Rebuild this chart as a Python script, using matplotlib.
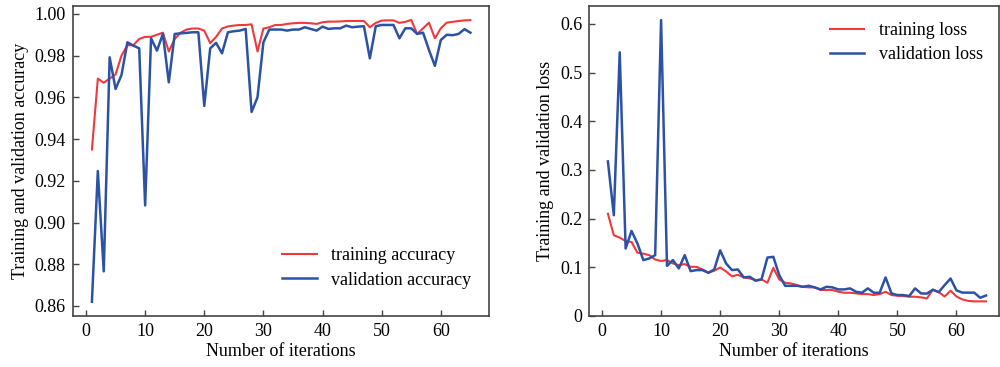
import matplotlib
matplotlib.use("Agg")
import matplotlib.pyplot as plt
import numpy as np

# Curvas (iteraciones 1..65)
iterations = np.arange(1, 66)

train_acc = [
    0.935, 0.969, 0.967, 0.969, 0.971, 0.980, 0.985, 0.985, 0.988, 0.989,
    0.989, 0.990, 0.991, 0.982, 0.988, 0.991, 0.9925, 0.993, 0.993, 0.992,
    0.986, 0.989, 0.993, 0.994, 0.9944, 0.9947, 0.9947, 0.995, 0.982, 0.993,
    0.9936, 0.9947, 0.9947, 0.9952, 0.9955, 0.9957, 0.9957, 0.9955, 0.9952, 0.996,
    0.9963, 0.9963, 0.9964, 0.9966, 0.9966, 0.9966, 0.9966, 0.9936, 0.9957, 0.9968,
    0.9969, 0.9969, 0.9957, 0.9962, 0.9971, 0.9904, 0.9931, 0.9958, 0.9883, 0.9931,
    0.9958, 0.9962, 0.9966, 0.9969, 0.997,
]
val_acc = [
    0.862, 0.9247, 0.8766, 0.9792, 0.964, 0.9707, 0.9864, 0.9848, 0.9835, 0.9082,
    0.9883, 0.9824, 0.9904, 0.9672, 0.9904, 0.9907, 0.9909, 0.9912, 0.9912, 0.9559,
    0.9835, 0.9861, 0.9811, 0.9912, 0.9917, 0.992, 0.9928, 0.953, 0.960, 0.9864,
    0.9925, 0.9925, 0.9925, 0.992, 0.9925, 0.9925, 0.9936, 0.9928, 0.992, 0.9939,
    0.9928, 0.9931, 0.9931, 0.9944, 0.9936, 0.9939, 0.9941, 0.9787, 0.9941, 0.9947,
    0.9947, 0.9947, 0.9883, 0.9931, 0.9931, 0.9904, 0.991, 0.9827, 0.9751, 0.9875,
    0.990, 0.9898, 0.9904, 0.9927, 0.991,
]
train_loss = [
    0.210, 0.166, 0.161, 0.154, 0.152, 0.130, 0.128, 0.125, 0.116, 0.113,
    0.115, 0.108, 0.1045, 0.1066, 0.101, 0.101, 0.0956, 0.0888, 0.093, 0.0997,
    0.0915, 0.0814, 0.0847, 0.0792, 0.0772, 0.0738, 0.0751, 0.0683, 0.099, 0.075,
    0.0683, 0.0669, 0.0635, 0.060, 0.0588, 0.0588, 0.0533, 0.0533, 0.0533, 0.0498,
    0.0478, 0.0478, 0.0464, 0.045, 0.045, 0.043, 0.045, 0.0498, 0.043, 0.0416,
    0.041, 0.0396, 0.0396, 0.0383, 0.036, 0.054, 0.049, 0.040, 0.052, 0.040,
    0.034, 0.031, 0.030, 0.030, 0.030,
]
val_loss = [
    0.3176, 0.207, 0.5417, 0.1387, 0.1748, 0.149, 0.1148, 0.1182, 0.125, 0.608,
    0.103, 0.1148, 0.0977, 0.125, 0.0922, 0.0943, 0.0943, 0.0888, 0.0956, 0.135,
    0.108, 0.0943, 0.0956, 0.0792, 0.0806, 0.0724, 0.0751, 0.120, 0.1216, 0.084,
    0.062, 0.062, 0.062, 0.060, 0.062, 0.0588, 0.0546, 0.060, 0.0588, 0.0546,
    0.0546, 0.0567, 0.0498, 0.0478, 0.0567, 0.0478, 0.0478, 0.0792, 0.0464, 0.043,
    0.043, 0.041, 0.0567, 0.0464, 0.046, 0.054, 0.049, 0.0635, 0.077, 0.0526,
    0.048, 0.048, 0.048, 0.0375, 0.042,
]

RED = "#f0393c"
BLUE = "#2c52a6"
SPINE = "#444444"

plt.rcParams["font.family"] = ["Liberation Serif", "DejaVu Serif"]
plt.rcParams["font.size"] = 13

fig = plt.figure(figsize=(10, 3.67), dpi=100)
ax1 = fig.add_axes([0.0727, 0.139, 0.4166, 0.8447])
ax2 = fig.add_axes([0.5893, 0.139, 0.4097, 0.8447])

ax1.plot(iterations, train_acc, color=RED, lw=1.5, label="training accuracy")
ax1.plot(iterations, val_acc, color=BLUE, lw=1.8, label="validation accuracy")
ax1.set_xlim(-2.25, 68.2)
ax1.set_ylim(0.8552, 1.0038)
ax1.set_yticks(np.arange(0.86, 1.001, 0.02))
ax1.yaxis.set_major_formatter(plt.FuncFormatter(lambda v, _: f"{v:.2f}"))
ax1.set_ylabel("Training and validation accuracy")
ax1.legend(loc="lower right", frameon=False, handlelength=1.9,
           borderaxespad=0.6, labelspacing=0.4, bbox_to_anchor=(1.0, 0.03))

ax2.plot(iterations, train_loss, color=RED, lw=1.5, label="training loss")
ax2.plot(iterations, val_loss, color=BLUE, lw=1.8, label="validation loss")
ax2.set_xlim(-2.15, 67.2)
ax2.set_ylim(0, 0.637)
ax2.set_yticks(np.arange(0, 0.61, 0.1))
ax2.yaxis.set_major_formatter(plt.FuncFormatter(lambda v, _: "0" if v == 0 else f"{v:.1f}"))
ax2.set_ylabel("Training and validation loss")
ax2.legend(loc="upper right", frameon=False, handlelength=1.9,
           borderaxespad=0.5, labelspacing=0.4)

for ax in (ax1, ax2):
    ax.set_xticks(np.arange(0, 61, 10))
    ax.set_xlabel("Number of iterations", labelpad=2)
    ax.tick_params(direction="in", length=4, width=1, color=SPINE, pad=5)
    for s in ax.spines.values():
        s.set_color(SPINE)
        s.set_linewidth(1.2)

fig.savefig("out.png", dpi=100, facecolor="white")
